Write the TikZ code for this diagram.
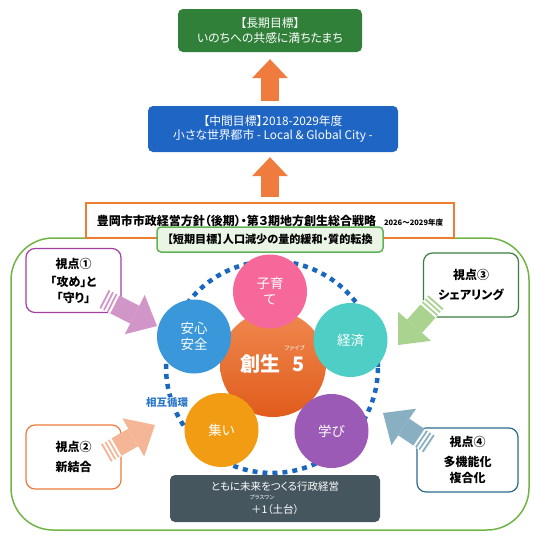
\documentclass[tikz,border=0pt]{standalone}
\usepackage{fontspec}
\setmainfont{Noto Sans CJK JP}[RawFeature=+palt]
\usetikzlibrary{arrows.meta, calc}
\definecolor{long-green}{HTML}{31803A}
\definecolor{mid-blue}{HTML}{1F65C3}
\definecolor{box-orange}{HTML}{ED7D31}
\definecolor{short-green}{HTML}{5FB356}
\definecolor{short-fill}{HTML}{EAF5E5}
\definecolor{outer-green}{HTML}{72B545}
\definecolor{cycle-blue}{HTML}{1A67BF}
\definecolor{core-top}{HTML}{F0884F}
\definecolor{core-bottom}{HTML}{E05C1C}
\definecolor{theme-pink}{HTML}{F6689A}
\definecolor{theme-blue}{HTML}{3A97D9}
\definecolor{theme-teal}{HTML}{4FCEC5}
\definecolor{theme-orange}{HTML}{F29C14}
\definecolor{theme-purple}{HTML}{9A5AB5}
\definecolor{loop-blue}{HTML}{2E78CA}
\definecolor{base-slate}{HTML}{46565F}
\definecolor{view-purple}{HTML}{A23FA0}
\definecolor{view-orange}{HTML}{EE7B3A}
\definecolor{view-green}{HTML}{3A7D3C}
\definecolor{view-navy}{HTML}{2B6B8D}
\definecolor{arrow-pink}{HTML}{D195C8}
\definecolor{arrow-salmon}{HTML}{F5B698}
\definecolor{arrow-green}{HTML}{A9D38F}
\definecolor{arrow-steel}{HTML}{89AFC3}
\definecolor{arrow-orange}{HTML}{F07B3F}

\tikzset{
  goalbox/.style={rounded corners=5pt, text=white, align=center,
    font=\fontsize{11.8}{14.5}\selectfont},
  viewbox/.style={draw, rounded corners=9pt, line width=1.2pt, fill=white,
    minimum width=95pt, minimum height=64pt, align=center,
    font=\bfseries\fontsize{12}{16}\selectfont},
  theme/.style={circle, minimum size=74pt, inner sep=0pt, text=white,
    align=center, font=\fontsize{13.5}{16}\selectfont},
  rubytext/.style={text=white, inner sep=0pt},
  blockarrow/.style={line width=20pt,
    -{Triangle[width=44pt, length=25pt, line width=0pt]}},
  uparrow/.style={line width=18pt, arrow-orange,
    -{Triangle[width=36pt, length=19pt, line width=0pt]}},
}

\begin{document}
\begin{tikzpicture}[x=1pt, y=-1pt]
  \useasboundingbox (0,0) rectangle (540,538);
  \draw[outer-green, line width=1.5pt, rounded corners=42pt] (11,238) rectangle (529,530);

  % goals, long to short
  \node[goalbox, fill=long-green, minimum width=184pt, minimum height=43pt]
    (longterm) at (270,30.5) {【長期目標】\\いのちへの共感に満ちたまち};
  \node[goalbox, fill=mid-blue, minimum width=250pt, minimum height=46pt]
    (midterm) at (273,129) {【中間目標】2018-2029年度\\小さな世界都市 - Local \& Global City -};
  \node[draw=box-orange, line width=1.2pt, fill=white, minimum width=368pt,
    minimum height=35pt, font=\bfseries\fontsize{12}{14}\selectfont]
    (policy) at (270,220.5) {豊岡市市政経営方針（後期）・第３期地方創生総合戦略\hspace{8pt}{\fontsize{7.5}{9}\selectfont 2026～2029年度}};
  \node[draw=short-green, line width=1.5pt, fill=short-fill, rounded corners=4pt,
    minimum width=226pt, minimum height=25pt, font=\bfseries\fontsize{11.1}{12}\selectfont]
    (shortterm) at (270,239.5) {【短期目標】人口減少の量的緩和・質的転換};
  \draw[uparrow, shorten <=5pt, shorten >=7pt] (longterm.south |- midterm.north) -- (longterm.south);
  \draw[uparrow, shorten <=5pt, shorten >=5pt] (policy.north) -- (policy.north |- midterm.south);

  % the five themes
  \node[circle, draw=cycle-blue, line width=4.5pt, dash pattern=on 5pt off 5pt,
    minimum size=212pt] (cycle) at (272,367) {};
  \node[circle, minimum size=106pt, top color=core-top, bottom color=core-bottom,
    text=white, font=\bfseries\fontsize{20}{24}\selectfont] (core) at (273,364) {創生\hspace{12pt}5};
  \node[rubytext, font=\fontsize{6}{7}\selectfont] (fiveruby) at (294.5,348) {ファイブ};
  \node[theme, fill=theme-pink] (child) at (270,291.5) {子育\\て};
  \node[theme, fill=theme-blue] (safety) at (194,336.5) {安心\\安全};
  \node[theme, fill=theme-teal] (economy) at (350.5,340) {経済};
  \node[theme, fill=theme-orange] (gather) at (221.5,430) {集い};
  \node[theme, fill=theme-purple] (learn) at (331.5,431) {学び};
  \node[fill=white, inner sep=1pt, text=loop-blue, font=\bfseries\fontsize{10.5}{12}\selectfont]
    (looplabel) at (167,403) {相互循環};

  \node[fill=base-slate, rounded corners=5pt, minimum width=210pt, minimum height=47pt,
    text=white, align=center, font=\fontsize{10.5}{23}\selectfont]
    (base) at (275,498.5) {ともに未来をつくる行政経営\\＋1（土台）};
  \node[rubytext, font=\fontsize{5.5}{6}\selectfont] (plusruby) at (262,497) {プラスワン};

  % viewpoints
  \node[viewbox, draw=view-purple] (view1) at (73.5,280.5) {視点①\\[2pt]「攻め」と\\「守り」};
  \node[viewbox, draw=view-orange] (view2) at (73.5,457) {視点②\\[4pt]新結合};
  \node[viewbox, draw=view-green] (view3) at (471,285) {視点③\\[4pt]シェアリング};
  \node[viewbox, draw=view-navy, minimum width=101pt] (view4) at (467.5,460) {視点④\\[4pt]多機能化\\複合化};

  \coordinate (t1) at (104,299); \coordinate (p1) at (157,326);
  \coordinate (t2) at (106,453); \coordinate (p2) at (155,425);
  \coordinate (t3) at (436,302); \coordinate (p3) at (398,345);
  \coordinate (t4) at (429,444); \coordinate (p4) at (383,413);
  \foreach \i/\c in {1/arrow-pink, 2/arrow-salmon, 3/arrow-green, 4/arrow-steel} {
    \draw[blockarrow, \c] (t\i) -- (p\i);
    \foreach \d in {3,7,11}
      \draw[white, line width=2pt] ($(t\i)!\d pt!(p\i)!10.5pt!90:(p\i)$)
        -- ($(t\i)!\d pt!(p\i)!10.5pt!-90:(p\i)$);
  }
\end{tikzpicture}
\end{document}
